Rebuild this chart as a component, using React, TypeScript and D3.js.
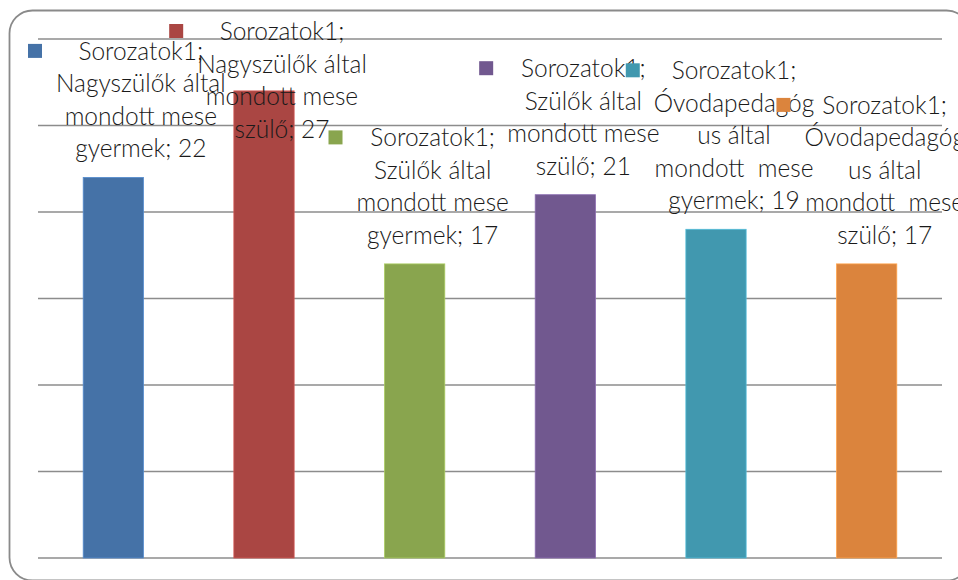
import React from "react";
import * as d3 from "d3";

const seriesName = "Sorozatok1";
const categoryLines: string[][] = [
  ["Nagyszülők által", "mondott mese", "gyermek"],
  ["Nagyszülők által", "mondott mese", "szülő"],
  ["Szülők által", "mondott mese", "gyermek"],
  ["Szülők által", "mondott mese", "szülő"],
  ["Óvodapedagóg", "us által", "mondott  mese", "gyermek"],
  ["Óvodapedagóg", "us által", "mondott  mese", "szülő"],
];
const categories = categoryLines.map((l) => l.join(" "));
const values = [22, 27, 17, 21, 19, 17];
const colors = ["#4572A7", "#AA4643", "#89A54E", "#71588F", "#4198AF", "#DB843D"];
const gridTicks = [0, 5, 10, 15, 20, 25, 30];

const W = 958;
const H = 580;
const FONT = "Lato, 'Open Sans', sans-serif";
const FS = 24.5;
const FW = 300;
const LH = 32.5;

let ctx: CanvasRenderingContext2D | null = null;
function measure(t: string): number {
  if (!ctx) ctx = document.createElement("canvas").getContext("2d");
  if (!ctx) return t.length * FS * 0.5;
  ctx.font = `${FW} ${FS}px ${FONT}`;
  return ctx.measureText(t).width;
}

export default function App() {
  const left = 38, right = 942, top = 39, bottom = 558;
  const x = d3
    .scaleBand<string>()
    .domain(categories)
    .range([left, right])
    .paddingInner(0.6)
    .paddingOuter(0.3);
  const y = d3.scaleLinear().domain([0, 30]).range([bottom, top]);

  const labels = categories.map((c, i) => {
    const cl = categoryLines[i];
    const lines = [seriesName + ";", ...cl.slice(0, -1), cl[cl.length - 1] + "; " + values[i]];
    const maxW = Math.max(...lines.map(measure));
    const cx = (x(c) as number) + x.bandwidth() / 2;
    const blockW = 28 + maxW;
    const blockLeft = Math.max(28, cx + 4 - blockW / 2);
    const textX = blockLeft + 28 + maxW / 2;
    let firstBase = y(values[i]) - 20 - (lines.length - 1) * LH;
    if (firstBase < 40) firstBase = 40;
    return { lines, textX, blockLeft, firstBase };
  });

  return (
    <svg
      width={W}
      height={H}
      style={{ position: "absolute", left: 0, top: 0, background: "#fff" }}
    >
      <rect x={9.5} y={10.5} width={960} height={570} rx={23} ry={23} fill="#fff" stroke="#8a8a8a" strokeWidth={1.8} />
      {gridTicks.map((t) => (
        <line key={t} x1={left} x2={right} y1={y(t)} y2={y(t)} stroke="#8c8c8c" strokeWidth={1.3} />
      ))}
      {categories.map((c, i) => (
        <rect
          key={c}
          x={x(c)}
          y={y(values[i])}
          width={x.bandwidth()}
          height={bottom - y(values[i])}
          fill={colors[i]}
          stroke={d3.color(colors[i])!.brighter(0.6).formatHex()}
          strokeWidth={0.8}
        />
      ))}
      {labels.map((lb, i) => (
        <g key={i}>
          <rect x={lb.blockLeft} y={lb.firstBase - 16} width={14} height={14} fill={colors[i]} />
          {lb.lines.map((t, j) => (
            <text
              key={j}
              x={lb.textX}
              y={lb.firstBase + j * LH}
              textAnchor="middle"
              fontFamily={FONT}
              fontSize={FS}
              fontWeight={FW}
              fill="#1a1a1a"
              style={{ whiteSpace: "pre" }}
            >
              {t}
            </text>
          ))}
        </g>
      ))}
    </svg>
  );
}
